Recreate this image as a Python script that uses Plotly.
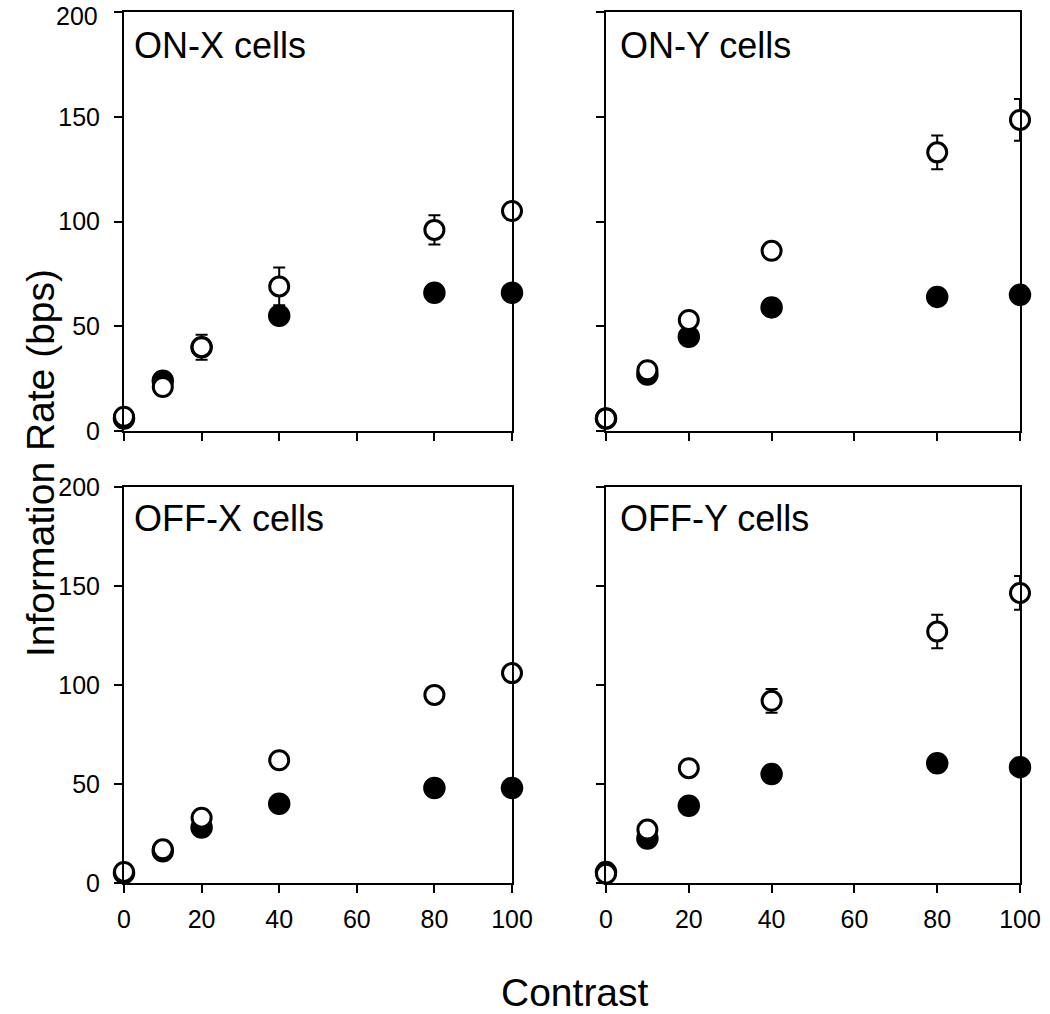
import plotly.graph_objects as go

contrast = [0, 10, 20, 40, 80, 100]

panels = ["ON-X cells", "ON-Y cells", "OFF-X cells", "OFF-Y cells"]

onx_open = [6.8, 21, 40, 69, 96, 105]
onx_open_err = [1, 2, 6, 9, 7, 4]
onx_filled = [6, 24, 40, 55, 66, 66]
onx_filled_err = [1, 2, 2, 3, 3, 3]

ony_open = [6, 29, 53, 86, 133, 148.5]
ony_open_err = [1, 2, 3, 3, 8, 10]
ony_filled = [6, 27, 45, 59, 64, 65]
ony_filled_err = [1, 2, 2, 3, 3, 3]

offx_open = [5.6, 17, 33, 62, 95, 106]
offx_open_err = [1, 2, 2, 3, 3, 4]
offx_filled = [5, 16, 28, 40, 48, 48]
offx_filled_err = [1, 2, 2, 3, 3, 3]

offy_open = [4.7, 27, 58, 92, 127, 146.5]
offy_open_err = [1, 2, 3, 6, 8.5, 8.5]
offy_filled = [5.5, 22.5, 39, 55, 60.5, 58.5]
offy_filled_err = [1, 2, 2, 3, 3, 3]

x_ticks = [0, 20, 40, 60, 80, 100]
y_ticks = [0, 50, 100, 150, 200]
y_ticktext = ["0", "50", "100", "150", "200"]

series = [
    (onx_open, onx_open_err, onx_filled, onx_filled_err),
    (ony_open, ony_open_err, ony_filled, ony_filled_err),
    (offx_open, offx_open_err, offx_filled, offx_filled_err),
    (offy_open, offy_open_err, offy_filled, offy_filled_err),
]

W, H = 1050, 1014
xdoms = [[124 / W, 512 / W], [606 / W, 1020 / W]]
ydoms = [[(H - 431) / H, (H - 12) / H], [(H - 883) / H, (H - 487) / H]]

fig = go.Figure()
FONT = "Liberation Sans, Arial, sans-serif"
TICKSIZE = 25

for i, (op, ope, fi, fie) in enumerate(series):
    sfx = "" if i == 0 else str(i + 1)
    xa, ya = "x" + sfx, "y" + sfx
    fig.add_trace(go.Scatter(
        x=contrast, y=fi, mode="markers", xaxis=xa, yaxis=ya, cliponaxis=False,
        marker=dict(size=2, color="rgba(0,0,0,0)"),
        error_y=dict(type="data", array=fie, color="black", thickness=2, width=6),
        showlegend=False, hoverinfo="skip"))
    fig.add_trace(go.Scatter(
        x=contrast, y=fi, mode="markers", xaxis=xa, yaxis=ya, cliponaxis=False,
        marker=dict(size=21, color="black", line=dict(color="black", width=1.5)),
        showlegend=False))
    fig.add_trace(go.Scatter(
        x=contrast, y=op, mode="markers", xaxis=xa, yaxis=ya, cliponaxis=False,
        marker=dict(size=2, color="rgba(0,0,0,0)"),
        error_y=dict(type="data", array=ope, color="black", thickness=2, width=6),
        showlegend=False, hoverinfo="skip"))
    fig.add_trace(go.Scatter(
        x=contrast, y=op, mode="markers", xaxis=xa, yaxis=ya, cliponaxis=False,
        marker=dict(size=19, color="white", line=dict(color="black", width=3)),
        showlegend=False))

layout = dict(
    template="none",
    width=W, height=H, margin=dict(l=0, r=0, t=0, b=0, pad=0),
    paper_bgcolor="white", plot_bgcolor="white", showlegend=False,
    font=dict(family=FONT, color="black", size=TICKSIZE),
)

for i in range(4):
    sfx = "" if i == 0 else str(i + 1)
    col, row = i % 2, i // 2
    layout["xaxis" + sfx] = dict(
        domain=xdoms[col], range=[0, 100], anchor="y" + sfx, automargin=False,
        tickvals=x_ticks, ticks="outside", ticklen=8, tickwidth=2, tickcolor="black",
        showticklabels=(row == 1), tickfont=dict(size=TICKSIZE, family=FONT, color="black"),
        ticklabelstandoff=5, ticklabeloverflow="allow",
        showline=True, linewidth=2, linecolor="black", mirror=True,
        showgrid=False, zeroline=False, fixedrange=True,
    )
    # the top-most "200" label sits at the page edge: it is drawn as an annotation below
    ttext = y_ticktext[:-1] + [""] if i == 0 else y_ticktext
    layout["yaxis" + sfx] = dict(
        domain=ydoms[row], range=[0, 200], anchor="x" + sfx, automargin=False,
        tickvals=y_ticks, ticktext=ttext, ticks="outside", ticklen=8, tickwidth=2, tickcolor="black",
        showticklabels=(col == 0), tickfont=dict(size=TICKSIZE, family=FONT, color="black"),
        ticklabelstandoff=9, ticklabeloverflow="allow",
        showline=True, linewidth=2, linecolor="black", mirror=True,
        showgrid=False, zeroline=False, fixedrange=True,
    )

fig.update_layout(**layout)

fig.add_annotation(text=y_ticktext[-1], x=100 / W, y=1, xref="paper", yref="paper",
                   xanchor="right", yanchor="top", showarrow=False,
                   font=dict(size=TICKSIZE, family=FONT, color="black"))

label_pos = [(132, 45), (618, 45), (132, 518), (618, 518)]
for name, (px, py) in zip(panels, label_pos):
    fig.add_annotation(text=name, x=px / W, y=(H - py) / H, xref="paper", yref="paper",
                       xanchor="left", yanchor="middle", showarrow=False,
                       font=dict(size=36, family=FONT, color="black"))

fig.add_annotation(text="Contrast", x=575 / W, y=(H - 992) / H, xref="paper", yref="paper",
                   xanchor="center", yanchor="middle", showarrow=False,
                   font=dict(size=39, family=FONT, color="black"))
fig.add_annotation(text="Information Rate (bps)", x=40 / W, y=(H - 463) / H, xref="paper", yref="paper",
                   xanchor="center", yanchor="middle", showarrow=False, textangle=-90,
                   font=dict(size=39, family=FONT, color="black"))

fig.write_html("out.html", config={"displayModeBar": False, "staticPlot": True},
               post_script="document.body.style.margin='0';document.body.style.padding='0';document.body.style.overflow='hidden';")
